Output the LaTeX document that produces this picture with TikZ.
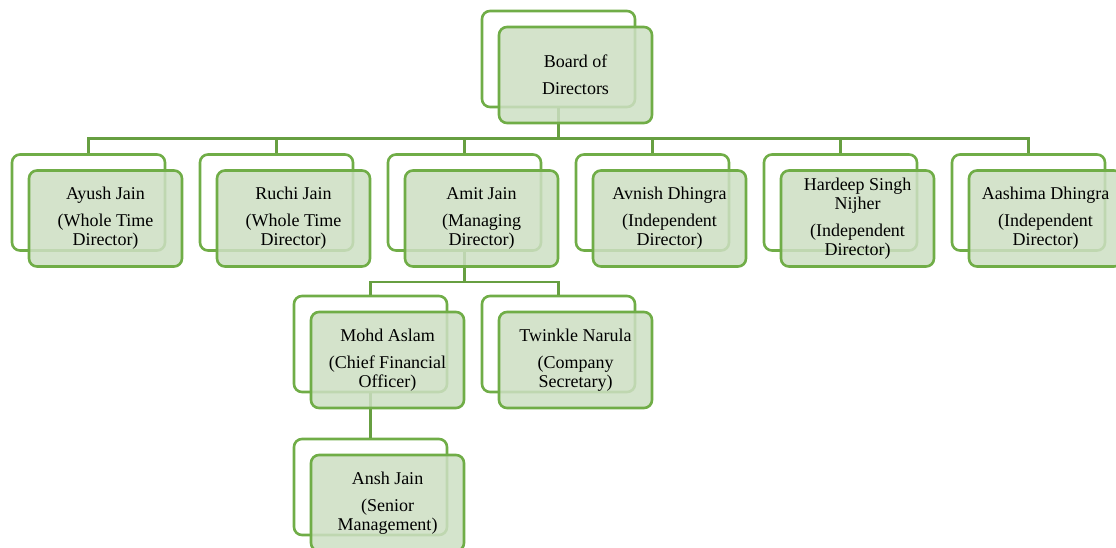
\documentclass[tikz,border=0pt]{standalone}
\usepackage{fontspec}
\setmainfont{Liberation Serif}
\usetikzlibrary{positioning}

\definecolor{orggreen}{RGB}{112,173,71}
\definecolor{orgfill}{RGB}{205,223,195}

\tikzset{
  backbox/.style={draw=orggreen,line width=2.6pt,rounded corners=8pt,fill=white,
    minimum width=153pt,minimum height=96pt,inner sep=0pt},
  frontbox/.style={backbox,fill=orgfill,fill opacity=.85,text opacity=1,
    xshift=17pt,yshift=-16pt,align=center,font=\fontsize{18}{19}\selectfont},
  conn/.style={draw=orggreen!92!black,line width=2.6pt}
}

\begin{document}
\begin{tikzpicture}[x=1pt,y=-1pt]
\useasboundingbox (0,0) rectangle (1116,548);
% back frames
\node[backbox] (bodb) at (558.5,59) {};
\node[backbox] (ayushb) at (88.5,202.5) {};
\node[backbox] (ruchib) at (276.5,202.5) {};
\node[backbox] (amitb) at (464.5,202.5) {};
\node[backbox] (avnishb) at (652.5,202.5) {};
\node[backbox] (hardeepb) at (840.5,202.5) {};
\node[backbox] (aashimab) at (1028.5,202.5) {};
\node[backbox] (mohdb) at (370.5,344) {};
\node[backbox] (twinkleb) at (558.5,344) {};
\node[backbox] (anshb) at (370.5,487) {};
% connectors
\draw[conn] (bodb.south) -- ++(0,30) -| (ayushb.north);
\draw[conn] (bodb.south) -- ++(0,30) -| (ruchib.north);
\draw[conn] (bodb.south) -- ++(0,30) -| (amitb.north);
\draw[conn] (bodb.south) -- ++(0,30) -| (avnishb.north);
\draw[conn] (bodb.south) -- ++(0,30) -| (hardeepb.north);
\draw[conn] (bodb.south) -- ++(0,30) -| (aashimab.north);
\draw[conn] (amitb.south) -- ++(0,30) -| (mohdb.north);
\draw[conn] (amitb.south) -- ++(0,30) -| (twinkleb.north);
\draw[conn] (mohdb.south) -- (anshb.north);
% front boxes
\node[frontbox] (bod) at (bodb) {Board of\\[8pt]Directors};
\node[frontbox] (ayush) at (ayushb) {Ayush Jain\\[8pt](Whole Time\\Director)};
\node[frontbox] (ruchi) at (ruchib) {Ruchi Jain\\[8pt](Whole Time\\Director)};
\node[frontbox] (amit) at (amitb) {Amit Jain\\[8pt](Managing\\Director)};
\node[frontbox] (avnish) at (avnishb) {Avnish Dhingra\\[8pt](Independent\\Director)};
\node[frontbox] (hardeep) at (hardeepb) {Hardeep Singh\\Nijher\\[8pt](Independent\\Director)};
\node[frontbox] (aashima) at (aashimab) {Aashima Dhingra\\[8pt](Independent\\Director)};
\node[frontbox] (mohd) at (mohdb) {Mohd Aslam\\[8pt](Chief Financial\\Officer)};
\node[frontbox] (twinkle) at (twinkleb) {Twinkle Narula\\[8pt](Company\\Secretary)};
\node[frontbox] (ansh) at (anshb) {Ansh Jain\\[8pt](Senior\\Management)};
\end{tikzpicture}
\end{document}
